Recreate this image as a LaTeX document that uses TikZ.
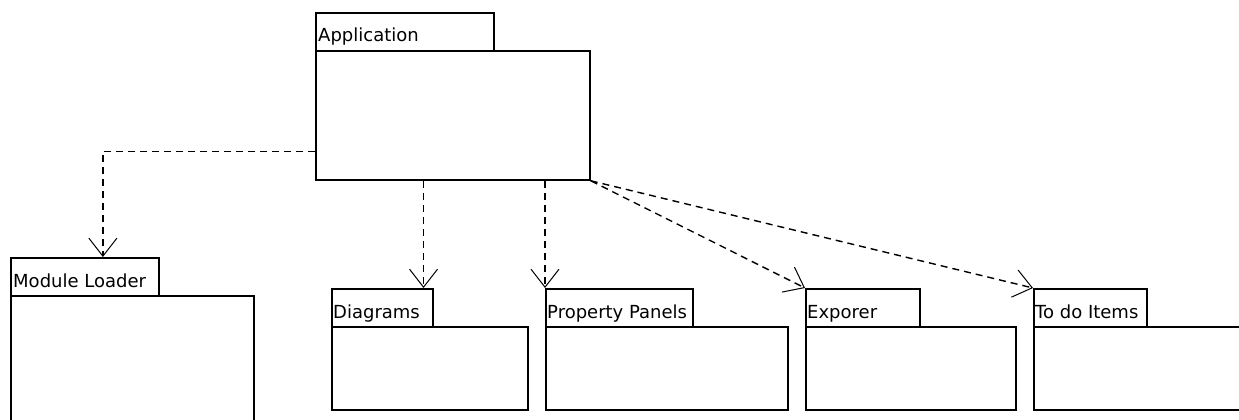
\documentclass[tikz,border=0pt]{standalone}
\usepackage{fontspec}
\setmainfont{DejaVu Sans}
\usetikzlibrary{arrows.meta,calc}
\begin{document}
\begin{tikzpicture}[x=1pt,y=-1pt,
  box/.style={draw=black,line width=1.8pt,fill=white,inner sep=0pt,anchor=north west},
  lbl/.style={anchor=base west,inner sep=0pt,font=\fontsize{18}{20}\selectfont},
  dep/.style={draw=black,line width=1.4pt,dash pattern=on 7pt off 5pt,
    -{Straight Barb[length=18pt,width=28pt,line width=1pt]}}]
\useasboundingbox (0,0) rectangle (1239,420);
% Application
\node[box,minimum width=178pt,minimum height=38pt] (apptab) at (315,12) {};
\node[box,minimum width=274pt,minimum height=129pt] (app) at (315,50) {};
\node[lbl] (applbl) at (318,42) {Application};
% Module Loader
\node[box,minimum width=148pt,minimum height=38pt] (mltab) at (10,257) {};
\node[box,minimum width=243pt,minimum height=135pt] (ml) at (10,295) {};
\node[lbl] (mllbl) at (13,287) {Module Loader};
% Diagrams
\node[box,minimum width=101pt,minimum height=38pt] (dgtab) at (331,288) {};
\node[box,minimum width=196pt,minimum height=83pt] (dg) at (331,326) {};
\node[lbl] (dglbl) at (333,318) {Diagrams};
% Property Panels
\node[box,minimum width=147pt,minimum height=38pt] (pptab) at (545,288) {};
\node[box,minimum width=242pt,minimum height=83pt] (pp) at (545,326) {};
\node[lbl] (pplbl) at (547,318) {Property Panels};
% Exporer
\node[box,minimum width=114pt,minimum height=38pt] (extab) at (805,288) {};
\node[box,minimum width=210pt,minimum height=83pt] (ex) at (805,326) {};
\node[lbl] (exlbl) at (807,318) {Exporer};
% To do Items
\node[box,minimum width=113pt,minimum height=38pt] (tdtab) at (1033,288) {};
\node[box,minimum width=230pt,minimum height=83pt] (td) at (1033,326) {};
\node[lbl] (tdlbl) at (1035,318) {To do Items};
% connectors
\coordinate (appl) at ($(app.south west)!0.225!(app.north west)$);
\coordinate (mltop) at ($(mltab.north west)!0.62!(mltab.north east)$);
\draw[dep] (appl) -| (mltop);
\coordinate (dgtop) at ($(dgtab.north west)!0.9!(dgtab.north east)$);
\draw[dep] (app.south -| dgtop) -- (dgtop);
\draw[dep] (app.south -| pptab.north west) -- (pptab.north west);
\draw[dep] (app.south east) -- (extab.north west);
\draw[dep] (app.south east) -- (tdtab.north west);
\end{tikzpicture}
\end{document}
